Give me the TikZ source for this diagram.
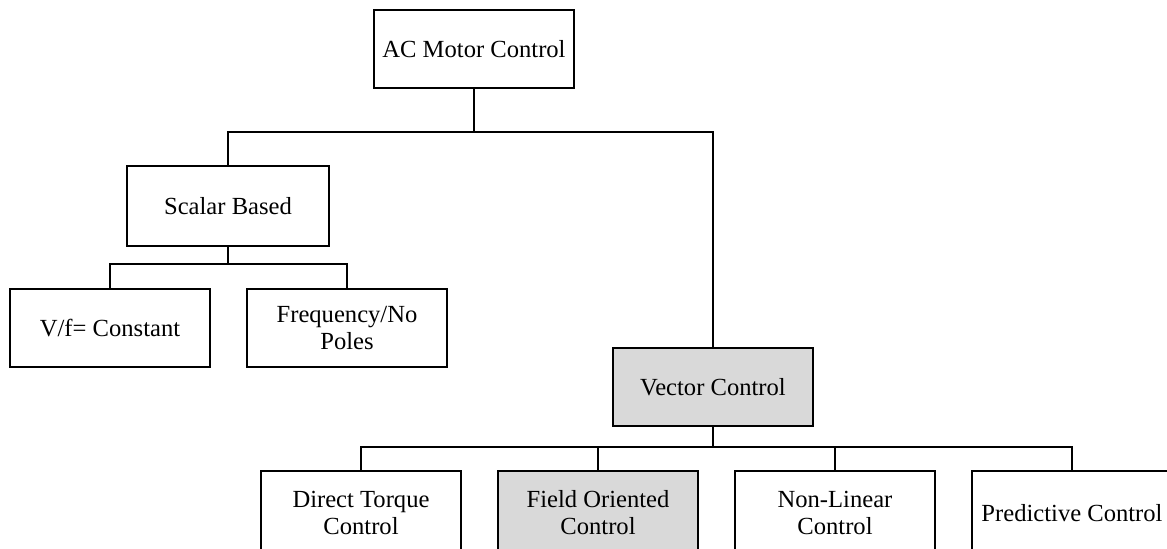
\documentclass[tikz,border=0pt]{standalone}
\usepackage{fontspec}
\setmainfont{Liberation Serif}
\usepackage{tikz}
\usetikzlibrary{positioning}

\begin{document}
\begin{tikzpicture}[node distance=5.925cm,line width=1.5pt]
 \tikzstyle{ctrlbox}=[rectangle,draw=black,fill=white,
   minimum width=5cm,minimum height=1.95cm,text centered,align=center,
   font=\fontsize{17.5}{19.2}\selectfont]
 \useasboundingbox (0,0) rectangle (29.175,-13.7);
 \node (acmotor) [ctrlbox,minimum height=1.95cm] at (11.85,-1.225) {AC Motor Control};
 \node (scalar) [ctrlbox,minimum width=5.05cm,minimum height=2cm,below of=acmotor,
   xshift=-6.15cm,yshift=2cm] {Scalar Based};
 \node (vf) [ctrlbox,below of=scalar,xshift=-2.95cm,yshift=2.875cm]
   {V/f= Constant};
 \node (freq) [ctrlbox,right of=vf] {Frequency/No\\Poles};
 \node (vector) [ctrlbox,fill=black!15,below of=acmotor,xshift=5.975cm,
   yshift=-2.525cm] {Vector Control};
 \node (dtc) [ctrlbox,minimum height=2.1cm,below of=vector,xshift=-8.8cm,
   yshift=2.775cm] {Direct Torque\\Control};
 \node (foc) [ctrlbox,minimum height=2.1cm,fill=black!15,right of=dtc]
   {Field Oriented\\Control};
 \node (nonlin) [ctrlbox,minimum height=2.1cm,right of=foc] {Non-Linear\\Control};
 \node (pred) [ctrlbox,minimum height=2.1cm,right of=nonlin] {Predictive Control};
 % tree links
 \draw (acmotor.south) -- ++(0,-1.075) -| (scalar.north);
 \draw (acmotor.south) -- ++(0,-1.075) -| (vector.north);
 \draw (scalar.south) -- ++(0,-0.425) -| (vf.north);
 \draw (scalar.south) -- ++(0,-0.425) -| (freq.north);
 \draw (vector.south) -- ++(0,-0.5) -| (dtc.north);
 \draw (vector.south) -- ++(0,-0.5) -| (foc.north);
 \draw (vector.south) -- ++(0,-0.5) -| (nonlin.north);
 \draw (vector.south) -- ++(0,-0.5) -| (pred.north);
\end{tikzpicture}
\end{document}
